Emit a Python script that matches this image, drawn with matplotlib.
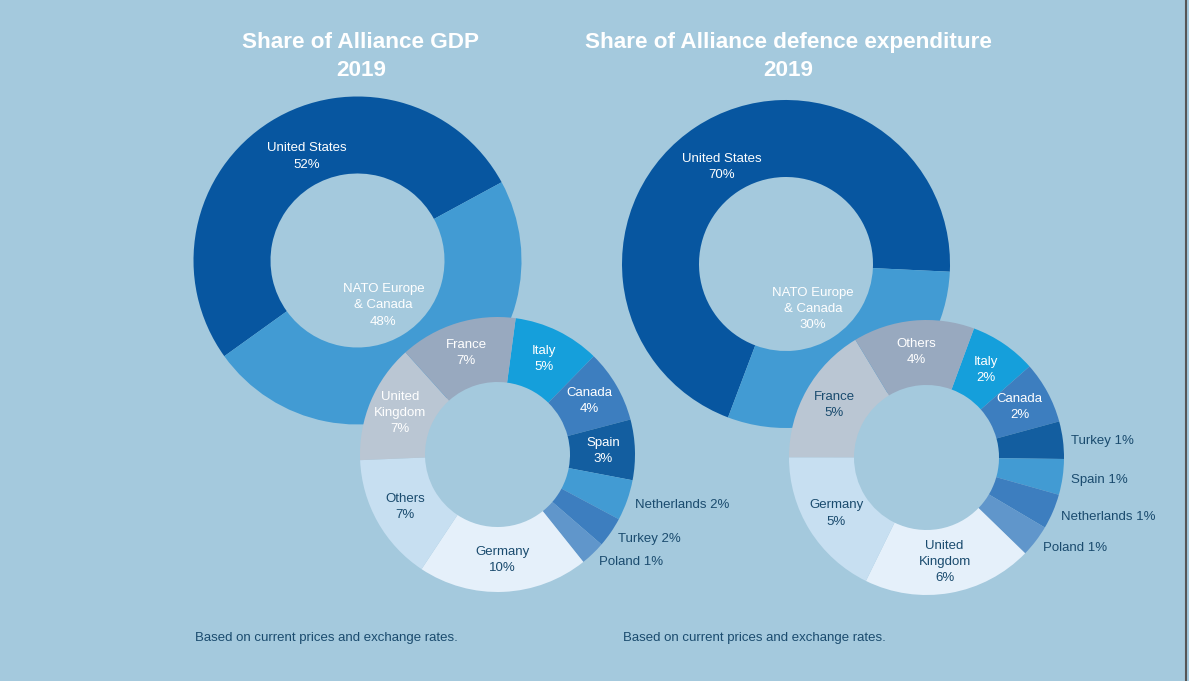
import matplotlib
matplotlib.use("Agg")
import matplotlib.pyplot as plt
import numpy as np

plt.rcParams['font.family'] = ['Liberation Sans', 'DejaVu Sans']

# --- data (percent of Alliance total) ---
big_names = ["United States", "NATO Europe\n& Canada"]
gdp_big = [52, 48]
def_big = [70, 30]

gdp_names = ["Italy", "Canada", "Spain", "Netherlands", "Turkey", "Poland",
             "Germany", "Others", "United\nKingdom", "France"]
gdp_vals = [4.9, 4.1, 3.4, 2.3, 1.7, 1.4, 9.6, 7.2, 6.7, 6.6]
gdp_outside = ["Netherlands", "Turkey", "Poland"]
gdp_dark = ["Germany", "Others"]

def_names = ["Italy", "Canada", "Turkey", "Spain", "Netherlands", "Poland",
             "United\nKingdom", "Germany", "France", "Others"]
def_vals = [2.36, 2.19, 1.32, 1.26, 1.24, 1.13, 6.0, 5.33, 4.9, 4.28]
def_outside = ["Turkey", "Spain", "Netherlands", "Poland"]
def_dark = ["United\nKingdom", "Germany", "France"]

titles = ["Share of Alliance GDP", "Share of Alliance defence expenditure"]
year = "2019"
note = "Based on current prices and exchange rates."

# --- style ---
bg = "#a4c9dd"
big_colors = ["#0756a0", "#429bd3"]
small_colors = ["#159fdb", "#3d7ebf", "#135ea0", "#429bd3", "#3d7ebf",
                "#6096cb", "#e5f0fa", "#c7dff1", "#bac6d3", "#98a9bf"]
dark = "#1a4b6e"
W, H = 1189, 681

fig = plt.figure(figsize=(W / 100, H / 100), dpi=100, facecolor=bg)
ax = fig.add_axes([0, 0, 1, 1])
ax.set_facecolor(bg)
fs = 9.5
ls = 1.45


def big_donut(vals, cx, cy, start, us_off, eu_off):
    R, r = 164, 87
    ax.pie(vals, colors=big_colors, startangle=start, radius=R,
           center=(cx, H - cy), wedgeprops=dict(width=R - r, linewidth=0))
    ax.text(cx + us_off[0], H - cy + us_off[1], f"{big_names[0]}\n{vals[0]}%",
            color="white", ha="center", va="center", fontsize=fs, linespacing=ls)
    ax.text(cx + eu_off[0], H - cy + eu_off[1], f"{big_names[1]}\n{vals[1]}%",
            color="white", ha="center", va="center", fontsize=fs, linespacing=ls)


def small_donut(vals, names, outside, darks, cx, cy, start):
    R, r = 137.5, 72.5
    wedges, _ = ax.pie(vals, colors=small_colors, startangle=start,
                       counterclock=False, radius=R, center=(cx, H - cy),
                       wedgeprops=dict(width=R - r, linewidth=0))
    for w, name, v in zip(wedges, names, vals):
        a = np.deg2rad((w.theta1 + w.theta2) / 2)
        if name in outside:
            rr = 146
            ax.text(cx + rr * np.cos(a), H - cy + rr * np.sin(a) - 2, f"{name} {v:.0f}%",
                    color=dark, ha="left", va="center", fontsize=fs)
        else:
            rr = 106
            col = dark if name in darks else "white"
            ax.text(cx + rr * np.cos(a), H - cy + rr * np.sin(a), f"{name}\n{v:.0f}%",
                    color=col, ha="center", va="center", fontsize=fs, linespacing=ls)


big_donut(gdp_big, 357.5, 260.5, 28.5, (-51, 104), (26, -45))
big_donut(def_big, 786, 264, -2.7, (-64, 97), (27, -45))
small_donut(gdp_vals, gdp_names, gdp_outside, gdp_dark, 497.5, 454.5, 82.4)
small_donut(def_vals, def_names, def_outside, def_dark, 926.5, 457.5, 69.8)

for t, x in zip(titles, [361, 788]):
    ax.text(x, H - 48, t, color="white", fontsize=16.2, fontweight="bold",
            ha="center", va="baseline")
    ax.text(x, H - 76, year, color="white", fontsize=16.2, fontweight="bold",
            ha="center", va="baseline")

ax.text(195, H - 641.5, note, color=dark, fontsize=fs, ha="left", va="baseline")
ax.text(623, H - 641.5, note, color=dark, fontsize=fs, ha="left", va="baseline")

ax.axvline(1185.5, color="#555555", lw=1.5)

ax.set_xlim(0, W)
ax.set_ylim(0, H)
ax.set_aspect("equal")
ax.axis("off")

fig.savefig("out.png", dpi=100, facecolor=bg)
